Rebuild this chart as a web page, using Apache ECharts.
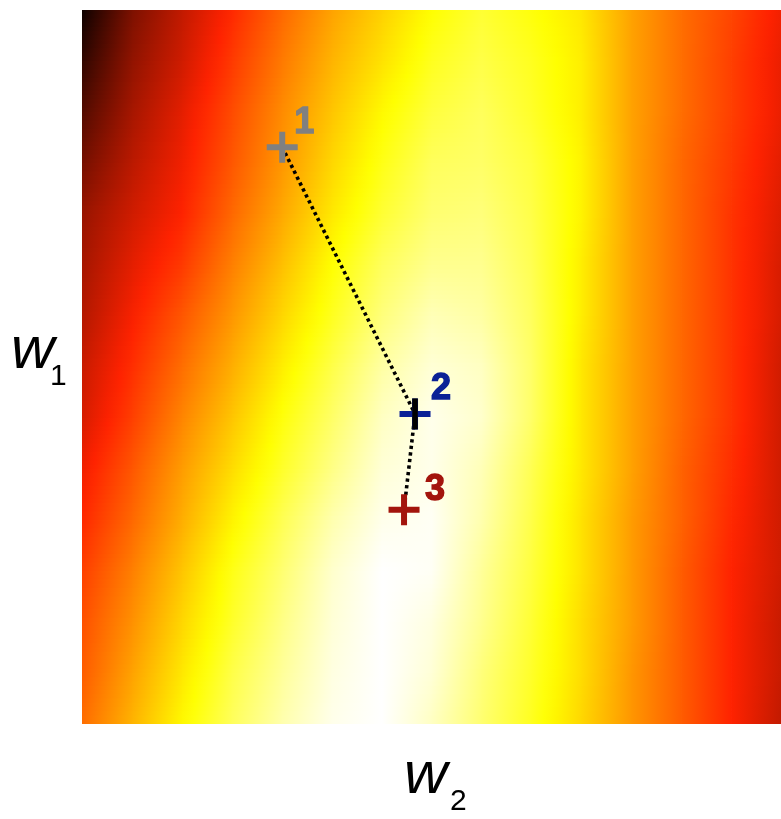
<!DOCTYPE html>
<html>
<head>
<meta charset="utf-8">
<script src="https://cdn.jsdelivr.net/npm/echarts@6.0.0/dist/echarts.min.js"></script>
<style>
  html, body { margin: 0; padding: 0; background: #fff; }
  #chart { width: 781px; height: 819px; }
</style>
</head>
<body>
<div id="chart"></div>
<script>
// surface on a 15 x 15 node grid (0 = black, 37 = red, 75 = yellow, 100 = white)
// rows go from top (large w1) to bottom, columns from left to right (w2)
var surface = [
  [2, 18, 28, 38, 49, 59, 67, 75, 80, 76, 71, 59, 50, 43, 35],
  [7, 21, 30, 41, 52, 62, 70, 78, 82, 78, 72, 59, 50, 42, 34],
  [12, 24, 33, 44, 55, 65, 74, 81, 84, 79, 72, 59, 50, 42, 34],
  [17, 27, 35, 46, 57, 68, 77, 84, 85, 81, 73, 59, 49, 41, 33],
  [22, 30, 37, 49, 60, 71, 80, 86, 87, 82, 73, 59, 49, 40, 32],
  [24, 33, 41, 53, 64, 75, 84, 89, 89, 83, 72, 59, 49, 40, 31],
  [26, 36, 46, 57, 68, 78, 87, 93, 91, 84, 72, 59, 49, 40, 31],
  [29, 39, 50, 61, 72, 82, 91, 96, 94, 85, 71, 59, 49, 40, 30],
  [31, 42, 54, 65, 76, 85, 94, 98, 95, 85, 71, 59, 49, 40, 30],
  [35, 46, 58, 69, 79, 88, 96, 98, 93, 83, 71, 59, 48, 39, 30],
  [38, 49, 61, 73, 83, 92, 98, 99, 92, 82, 70, 58, 48, 38, 30],
  [42, 53, 65, 77, 86, 95, 100, 99, 90, 81, 70, 58, 47, 37, 30],
  [45, 56, 68, 79, 88, 96, 100, 97, 89, 80, 69, 58, 47, 37, 29],
  [47, 59, 71, 82, 90, 97, 100, 96, 87, 79, 69, 57, 47, 37, 29],
  [50, 62, 74, 84, 92, 98, 100, 94, 86, 78, 68, 57, 47, 37, 28]
];

// the three steps, in grid units
var stepW2 = [4.01, 6.67, 6.45];
var stepW1 = [2.69, 7.92, 9.80];
var stepNames = ['1', '2', '3'];
var stepColors = ['#808080', '#0b2196', '#a3150c'];
var labelOffsets = [[22, -24], [26, -25], [31, -20]];

// hot colour ramp
var ramp = [
  [0, 0, 0, 0],
  [37, 255, 34, 0],
  [75, 255, 255, 0],
  [100, 255, 255, 255]
];

function hot(v) {
  v = Math.max(0, Math.min(100, v));
  for (var k = 1; k < ramp.length; k++) {
    if (v <= ramp[k][0]) {
      var a = ramp[k - 1], b = ramp[k];
      var t = (v - a[0]) / (b[0] - a[0]);
      var r = Math.round(a[1] + (b[1] - a[1]) * t);
      var g = Math.round(a[2] + (b[2] - a[2]) * t);
      var bl = Math.round(a[3] + (b[3] - a[3]) * t);
      return 'rgb(' + r + ',' + g + ',' + bl + ')';
    }
  }
  return '#fff';
}

var nRow = surface.length - 1;
var nCol = surface[0].length - 1;

var cells = [];
for (var j = 0; j < nRow; j++) {
  for (var i = 0; i < nCol; i++) {
    cells.push([i, j, surface[j][i]]);
  }
}

// interp shading: each cell drawn as thin strips with a horizontal gradient
function renderCell(params, api) {
  var i = api.value(0), j = api.value(1);
  var p0 = api.coord([i, j]);
  var p1 = api.coord([i + 1, j + 1]);
  var w = p1[0] - p0[0], h = p1[1] - p0[1];
  var strips = 12;
  var children = [];
  for (var k = 0; k < strips; k++) {
    var s = (k + 0.5) / strips;
    var a = surface[j][i] + (surface[j + 1][i] - surface[j][i]) * s;
    var b = surface[j][i + 1] + (surface[j + 1][i + 1] - surface[j][i + 1]) * s;
    var stops = [];
    for (var q = 0; q <= 4; q++) {
      stops.push({ offset: q / 4, color: hot(a + (b - a) * q / 4) });
    }
    children.push({
      type: 'rect',
      shape: { x: p0[0], y: p0[1] + h * k / strips, width: w + 0.8, height: h / strips + 0.8 },
      style: { fill: new echarts.graphic.LinearGradient(0, 0, 1, 0, stops) }
    });
  }
  return { type: 'group', children: children };
}

var plus = 'path://M0,12.5H12.5V0H18.5V12.5H31V18.5H18.5V31H12.5V18.5H0Z';

var stepPoints = stepW2.map(function (x, k) {
  return {
    value: [x, stepW1[k]],
    itemStyle: { color: stepColors[k], opacity: 1 },
    label: {
      show: true,
      formatter: stepNames[k],
      position: 'inside',
      offset: labelOffsets[k],
      color: stepColors[k],
      fontSize: 36,
      fontWeight: 'bold',
      fontFamily: 'Liberation Sans, Arial, sans-serif',
      textBorderColor: stepColors[k],
      textBorderWidth: 1.4
    }
  };
});

var path = stepW2.map(function (x, k) { return [x, stepW1[k]]; });

var chart = echarts.init(document.getElementById('chart'), null, { renderer: 'canvas' });
chart.setOption({
  animation: false,
  backgroundColor: '#fff',
  grid: { left: 82, top: 10, width: 699, height: 714 },
  xAxis: { type: 'value', min: 0, max: nCol, show: false },
  yAxis: { type: 'value', min: 0, max: nRow, inverse: true, show: false },
  series: [
    {
      type: 'custom',
      renderItem: renderCell,
      data: cells,
      encode: { x: 0, y: 1 },
      clip: true,
      silent: true,
      z: 1
    },
    {
      type: 'line',
      data: path,
      showSymbol: false,
      lineStyle: { color: '#000', width: 3.6, type: [3.3, 3.3], opacity: 1 },
      z: 2
    },
    {
      type: 'scatter',
      symbol: plus,
      symbolSize: 31,
      data: stepPoints,
      z: 3
    },
    {
      // vertical stroke of step 2 shows in black
      type: 'scatter',
      symbol: 'rect',
      symbolSize: [5.5, 31],
      itemStyle: { color: '#000', opacity: 1 },
      data: [path[1]],
      z: 4
    }
  ],
  graphic: [
    { type: 'text', x: 11, y: 351, style: { text: 'w', font: 'italic 60px "Liberation Sans", Arial, sans-serif', fill: '#000', verticalAlign: 'middle' } },
    { type: 'text', x: 50, y: 377, style: { text: '1', font: '30px "Liberation Sans", Arial, sans-serif', fill: '#000', verticalAlign: 'middle' } },
    { type: 'text', x: 404, y: 776, style: { text: 'w', font: 'italic 60px "Liberation Sans", Arial, sans-serif', fill: '#000', verticalAlign: 'middle' } },
    { type: 'text', x: 450, y: 802, style: { text: '2', font: '30px "Liberation Sans", Arial, sans-serif', fill: '#000', verticalAlign: 'middle' } }
  ]
});
</script>
</body>
</html>
